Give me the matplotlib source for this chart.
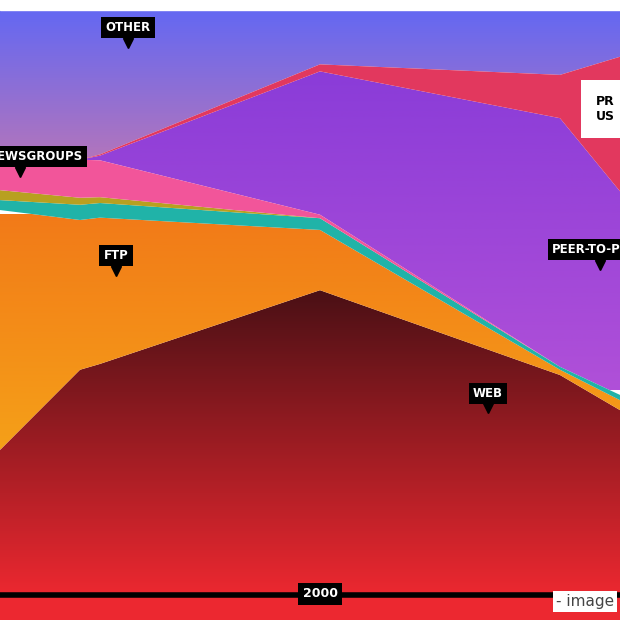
import numpy as np
import matplotlib
matplotlib.use("Agg")
import matplotlib.pyplot as plt
from matplotlib.colors import LinearSegmentedColormap

years = [1996, 1997, 1997.25, 2000, 2003, 2003.75]
web    = [24.8, 38.5, 39.5, 52.1, 37.6, 31.6]
ftp    = [41.0, 25.6, 25.0, 10.3, 0.9, 1.7]
teal   = [1.7, 2.6, 2.5, 2.0, 0.5, 0.9]
olive  = [1.7, 1.2, 1.0, 0.0, 0.0, 0.0]
news   = [4.3, 6.5, 6.3, 0.6, 0.0, 0.0]
p2p    = [0.0, 0.0, 0.8, 24.5, 42.5, 34.8]
priv   = [0.0, 0.0, 0.2, 1.2, 7.4, 23.0]
layers = [web, ftp, teal, olive, news, p2p, priv]
labels = [("WEB", 2002.1, 34.5, "center"), ("FTP", 1997.45, 58, "center"),
          ("NEWSGROUPS", 1995.85, 74.9, "left"), ("OTHER", 1997.6, 97, "center"),
          ("PEER-TO-PEER", 2002.9, 59, "left"), ("P2P", 1995.9, 67.5, "right")]

fig = plt.figure(figsize=(6.2, 6.2), dpi=100)
ax = fig.add_axes([0, 0, 1, 1])
x0, x1 = 1996, 2003.75
ylo, yhi = -4.27, 101.7
ax.set_xlim(x0, x1); ax.set_ylim(ylo, yhi); ax.axis("off")

def grad_fill(xs, lo, hi, c_top, c_bot, ytop=100, ybot=0):
    poly = ax.fill_between(xs, lo, hi, color="none", lw=0)
    cm = LinearSegmentedColormap.from_list("g", [c_bot, c_top])
    img = ax.imshow(np.linspace(0, 1, 256)[:, None], cmap=cm, origin="lower",
                    extent=[x0, x1, ybot, ytop], aspect="auto", zorder=1)
    img.set_clip_path(poly.get_paths()[0], transform=ax.transData)

cum = np.zeros(len(years))
tops = []
for l in layers:
    tops.append((cum.copy(), cum + np.array(l)))
    cum = cum + np.array(l)
other_top = np.full(len(years), 100.0)

grad_fill(years, cum, other_top, "#6468f2", "#d07aa8", 100, 65)
lo, hi = tops[0]
grad_fill(years, lo, hi, "#4a1015", "#ec2830", 52, 0)
lo, hi = tops[1]
grad_fill(years, lo, hi, "#f27a18", "#f5a018", 65, 25)
cols = [None, None, "#20b3a8", "#b8a020", "#f2559a", None, "#e2385e"]
for i in [2, 3, 4, 6]:
    lo, hi = tops[i]
    ax.fill_between(years, lo, hi, color=cols[i], lw=0, zorder=2)
lo, hi = tops[5]
grad_fill(years, lo, hi, "#8a3cd8", "#b050d8", 90, 35)
ax.axhspan(ylo, 0, color="#ec2830", zorder=3)
ax.axhline(0, color="black", lw=4, zorder=4)

def tag(txt, x, y, ha="center", size=8.5):
    t = ax.text(x, y, txt, color="white", fontsize=size, fontweight="bold", ha=ha, va="center",
                zorder=6, bbox=dict(boxstyle="square,pad=0.35", fc="black", ec="none"))
    return t
for t, x, y, ha in labels:
    tag(t, x, y, ha)
    if t == "P2P":
        continue
    px = x + (0.4 if ha == "left" and t == "NEWSGROUPS" else 0)
    if t == "PEER-TO-PEER":
        px = x + 0.6
    ax.plot([px], [y - 2.6], marker="v", color="black", ms=7, zorder=5)
tag("2000", 2000, 0.2, "center", 9)
ax.text(2003.45, 83, "PR\nUS", fontsize=9, fontweight="bold", color="black", va="center", zorder=6,
        bbox=dict(boxstyle="square,pad=1.2", fc="white", ec="none"))
ax.axhspan(100, yhi, color="white", zorder=7)
ax.text(0.99, 0.03, "- image", transform=ax.transAxes, ha="right", va="center", fontsize=11,
        color="#444444", zorder=8, bbox=dict(fc="white", ec="none", pad=2))
fig.savefig("out.png", dpi=100)
